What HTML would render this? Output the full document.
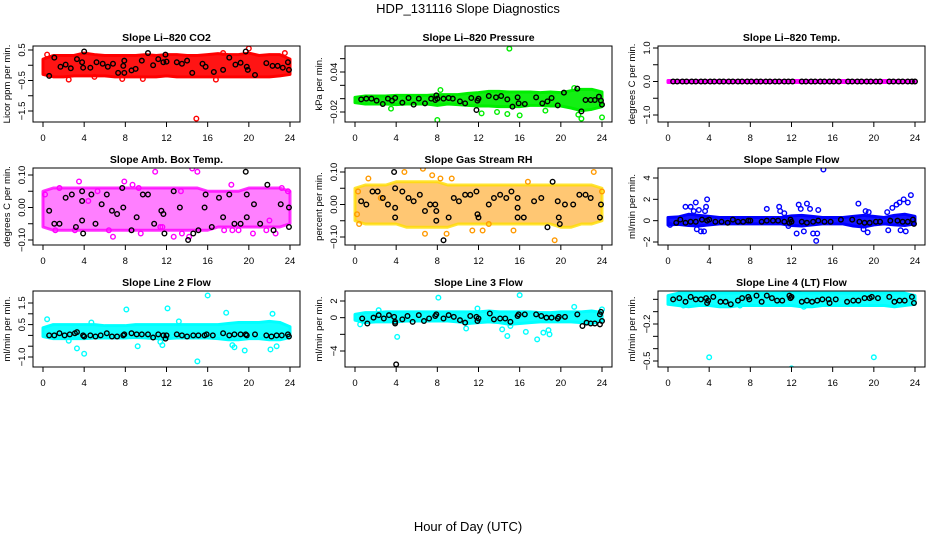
<!DOCTYPE html>
<html><head><meta charset="utf-8">
<style>
html,body{margin:0;padding:0;background:#fff;}
svg{display:block;font-family:"Liberation Sans",sans-serif;}
</style></head>
<body>
<svg id="chart" width="936" height="540" viewBox="0 0 936 540" xmlns="http://www.w3.org/2000/svg">
<text x="468" y="13" font-size="13" text-anchor="middle">HDP_131116  Slope Diagnostics</text>
<text x="468" y="531" font-size="13" text-anchor="middle">Hour of Day (UTC)</text>
</svg>
<script>
// ---- data ----
const hours = [0,1,2,3,4,5,6,7,8,9,10,11,12,13,14,15,16,17,18,19,20,21,22,23,24];
const xTicks = [0,4,8,12,16,20,24];

const co2Lo = [-0.3,-0.38,-0.38,-0.35,-0.35,-0.35,-0.35,-0.38,-0.38,-0.38,-0.38,-0.38,-0.35,-0.38,-0.38,-0.38,-0.38,-0.38,-0.38,-0.38,-0.38,-0.38,-0.38,-0.35,-0.3];
const co2Hi = [0.2,0.32,0.32,0.32,0.4,0.35,0.32,0.32,0.32,0.32,0.35,0.32,0.35,0.35,0.32,0.32,0.35,0.38,0.35,0.35,0.4,0.32,0.35,0.35,0.2];
const co2Out = [[14.9,-1.75],[20.0,0.55],[0.4,0.35],[2.5,-0.47],[7.7,-0.45],[9.7,-0.45],[17.5,0.4],[23.5,0.4],[16.8,-0.47],[5,-0.38]];
const co2Blk = [[0.6,-0.35],[1.1,0.25],[1.7,-0.05],[2.2,0.02],[2.7,-0.1],[3.3,0.2],[3.8,0.1],[3.9,-0.08],[4,0.45],[4.6,-0.08],[5.2,0.1],[5.8,0.05],[6.3,-0.05],[6.8,0.05],[7.3,-0.25],[7.8,-0.02],[7.9,0.15],[7.9,-0.25],[8.6,-0.17],[9,-0.12],[9.6,0.15],[10.2,0.4],[10.7,0],[11.2,0.2],[11.7,0.1],[11.9,0.35],[12,0.12],[13,0.1],[13.5,0.05],[14,0.15],[14.5,-0.25],[15.5,0.05],[15.8,-0.05],[16.6,-0.22],[17.5,-0.15],[18.1,0.25],[18.7,0.02],[19.2,0.08],[19.7,0.45],[19.8,-0.05],[19.9,-0.15],[20.6,-0.32],[21.7,0.07],[22.3,-0.02],[22.8,-0.02],[23.3,-0.08],[23.8,0.1],[23.9,-0.15]];

const presLo = [-0.006,-0.008,-0.008,-0.008,-0.009,-0.008,-0.008,-0.008,-0.01,-0.008,-0.009,-0.01,-0.011,-0.011,-0.012,-0.012,-0.012,-0.01,-0.01,-0.011,-0.011,-0.014,-0.018,-0.016,-0.012];
const presHi = [0.002,0.004,0.004,0.004,0.005,0.005,0.005,0.005,0.006,0.006,0.006,0.008,0.009,0.011,0.011,0.01,0.01,0.01,0.009,0.01,0.009,0.012,0.014,0.014,0.01];
const presOut = [[15,0.075],[8,-0.032],[24,-0.028],[12.3,-0.022],[16,-0.025],[21.7,-0.024],[22,-0.03],[21.3,0.016],[3.5,-0.015],[8.3,0.013],[14.8,-0.023],[13.8,-0.02],[18.5,-0.018]];
const presBlk = [[0.6,-0.001],[1.1,0.0],[1.6,0.0],[2.1,-0.003],[2.7,-0.008],[3.2,0.0],[3.6,-0.003],[3.9,0.001],[4.6,-0.006],[5.2,0.001],[5.7,-0.009],[6.2,0.0],[6.8,-0.007],[7.4,0.0],[7.8,-0.002],[7.9,0.005],[8.0,0.0],[8.6,0.0],[9.1,0.001],[9.5,0.0],[10.2,-0.004],[10.7,-0.007],[11.3,0.001],[11.8,-0.017],[11.9,-0.003],[12.0,0.0],[13.0,0.004],[13.7,0.002],[14.2,0.004],[14.8,-0.001],[15.3,-0.012],[15.8,0.002],[15.9,-0.007],[16.5,-0.008],[17.6,0.002],[18.2,-0.007],[18.7,-0.004],[19.1,0.001],[19.7,-0.01],[20.3,0.009],[21.6,0.015],[22.0,-0.019],[22.4,-0.002],[22.9,-0.002],[23.3,-0.002],[23.7,0.003],[23.9,-0.003],[24.0,-0.009]];

const tempLo = hours.map(()=> -0.03);
const tempHi = hours.map(()=> 0.03);
const tempOut = [];
const tempBlkX = [0.5,0.9,1.4,1.8,2.3,2.7,3.2,3.6,4.1,4.5,5.0,5.4,5.9,6.3,6.8,7.2,7.7,8.1,8.6,9.0,9.5,9.9,10.4,10.8,11.3,11.7,12.1,13.0,13.4,13.9,14.3,14.8,15.2,15.7,16.1,16.6,17.5,17.9,18.4,18.8,19.3,19.7,20.2,20.6,21.5,21.9,22.4,22.8,23.3,23.7,24.0];
const tempBlk = tempBlkX.map(x=>[x,0]);

const ambLo = [-0.06,-0.07,-0.07,-0.07,-0.07,-0.07,-0.07,-0.07,-0.07,-0.07,-0.07,-0.07,-0.07,-0.07,-0.07,-0.07,-0.07,-0.06,-0.06,-0.06,-0.06,-0.06,-0.06,-0.06,-0.05];
const ambHi = [0.05,0.06,0.06,0.06,0.06,0.06,0.06,0.06,0.06,0.06,0.06,0.06,0.06,0.06,0.06,0.06,0.05,0.05,0.05,0.05,0.06,0.06,0.06,0.06,0.05];
const ambOut = [[0.2,0.04],[1.2,-0.07],[1.6,0.06],[3.5,0.08],[4.4,0.02],[6.8,-0.09],[7.9,0.08],[9.5,-0.08],[9.3,0.06],[10.9,0.11],[12.7,-0.09],[13.4,0.05],[14.5,0.12],[15,0.11],[14.2,-0.09],[18.3,0.07],[17.6,-0.07],[18.4,-0.07],[19,-0.07],[20.4,-0.08],[21.7,-0.07],[22,-0.04],[23.2,0.06],[23.8,0.05],[11.4,-0.06],[11.6,-0.06],[5.3,0.05],[8.7,0.07],[3.1,-0.07],[6.4,-0.07],[13.5,-0.08],[22.6,-0.08]];
const ambBlk = [[0.6,-0.01],[1.1,-0.05],[1.6,-0.05],[2.2,0.03],[2.8,0.04],[3.2,-0.06],[3.8,0.02],[3.8,-0.04],[3.9,-0.08],[3.8,0.05],[4.7,0.04],[5.1,-0.05],[5.7,0.01],[6.2,0.04],[6.7,-0.01],[7.2,-0.02],[7.7,0.06],[7.8,0.0],[8.6,-0.07],[9.1,-0.03],[9.7,0.04],[10.2,0.04],[10.8,-0.05],[11.5,-0.01],[11.7,-0.02],[11.8,-0.08],[12.7,0.05],[13.3,0.0],[14.1,-0.1],[14.6,-0.08],[15.1,-0.07],[15.7,0.0],[15.8,0.04],[16.4,-0.06],[17.1,0.03],[17.5,-0.03],[18.1,0.04],[18.6,-0.05],[19.2,-0.05],[19.7,0.11],[19.8,0.04],[19.8,-0.03],[20.5,0.01],[21.1,-0.05],[21.8,0.07],[22.4,-0.07],[23.1,0.01],[23.9,0.0],[23.9,-0.06]];

const rhLo = [-0.05,-0.06,-0.06,-0.06,-0.06,-0.07,-0.07,-0.07,-0.07,-0.07,-0.06,-0.06,-0.06,-0.06,-0.06,-0.06,-0.06,-0.06,-0.06,-0.06,-0.07,-0.07,-0.06,-0.06,-0.05];
const rhHi = [0.05,0.06,0.06,0.06,0.07,0.07,0.07,0.07,0.07,0.06,0.06,0.06,0.06,0.06,0.06,0.06,0.06,0.06,0.06,0.06,0.06,0.06,0.06,0.06,0.05];
const rhOut = [[0.2,-0.03],[0.4,-0.06],[1.3,0.08],[4.8,0.1],[6.6,0.11],[6.8,-0.09],[7.5,0.09],[8.9,-0.09],[9.4,0.08],[11.4,-0.08],[12.4,-0.08],[15.4,-0.08],[19.4,-0.11],[23.2,0.1],[24,0.04],[0.3,0.04],[2.5,0.02],[13,-0.06],[8.3,0.08],[16.8,0.07]];
const rhBlk = [[0.6,0.01],[1.1,0.0],[1.7,0.04],[2.2,0.04],[2.7,0.02],[3.2,0.0],[3.8,0.1],[3.9,0.05],[3.9,-0.01],[3.9,-0.04],[4.6,0.04],[5.2,0.02],[5.7,0.01],[6.3,0.03],[6.8,-0.02],[7.3,0.0],[7.8,0.0],[7.9,-0.02],[7.9,-0.05],[8.6,-0.11],[9.1,-0.04],[9.6,0.02],[10.1,0.01],[10.7,0.03],[11.2,0.03],[11.8,0.04],[11.9,-0.03],[12.0,-0.04],[13.0,0.0],[13.5,0.02],[14.1,0.03],[14.7,0.02],[15.2,0.04],[15.8,0.02],[15.8,-0.01],[15.8,-0.04],[16.4,-0.04],[17.4,0.01],[18.1,0.02],[18.7,-0.07],[19.2,0.07],[19.7,0.01],[19.8,-0.04],[19.9,-0.06],[20.4,0.0],[21.2,0.0],[21.8,0.03],[22.4,0.03],[22.9,0.02],[23.8,-0.04],[23.9,0.0]];

const flowLo = [-0.4,-0.35,-0.45,-0.5,-0.4,-0.3,-0.3,-0.3,-0.3,-0.3,-0.3,-0.3,-0.45,-0.5,-0.4,-0.3,-0.3,-0.3,-0.5,-0.6,-0.4,-0.3,-0.4,-0.45,-0.3];
const flowHi = [0.3,0.35,0.6,0.5,0.4,0.3,0.3,0.3,0.3,0.3,0.3,0.3,0.45,0.5,0.4,0.3,0.3,0.3,0.4,0.5,0.4,0.3,0.5,0.6,0.4];
const flowOut = [[1.7,1.3],[2.2,1.3],[2.5,0.9],[2.7,1.7],[3.0,1.0],[3.6,0.9],[3.7,1.3],[3.8,2.0],[2.8,-0.8],[3.2,-1.0],[3.5,-1.0],[9.6,1.1],[10.8,1.3],[10.9,0.9],[11.3,0.7],[12.7,1.5],[12.9,1.1],[13.5,1.6],[13.8,1.1],[13.2,-1.0],[12.5,-1.2],[14.1,-1.2],[14.4,-1.9],[14.5,-1.2],[14.6,1.0],[15.1,4.8],[18.5,1.6],[19.2,0.9],[19.5,0.8],[19.4,-1.1],[21.3,0.8],[21.4,-0.9],[21.8,1.2],[22.2,1.5],[22.5,1.7],[22.9,2.0],[23.3,1.7],[23.6,2.4],[22.6,-0.9],[23.1,-1.0],[0.2,-0.4],[19,-0.8],[11.7,-0.5]];
const flowBlk = [[0.8,-0.2],[1.2,0.1],[1.7,-0.2],[2.2,-0.1],[2.7,-0.1],[3.3,0.1],[3.8,0.0],[4.0,0.1],[4.6,-0.1],[5.2,-0.1],[5.8,-0.2],[6.3,0.1],[6.8,-0.1],[7.3,-0.1],[7.8,0.0],[8.0,0.0],[9.1,-0.1],[9.6,0.0],[10.2,0.0],[10.7,0.0],[11.3,-0.1],[11.8,-0.2],[11.9,0.1],[12.0,-0.1],[13.0,-0.1],[13.5,-0.2],[14.1,-0.1],[14.6,0.0],[15.2,-0.1],[15.8,-0.1],[16.8,0.1],[17.9,0.1],[18.6,-0.1],[19.1,-0.2],[19.6,-0.2],[20.2,-0.1],[20.6,-0.1],[21.6,0.0],[22.3,0.0],[22.8,-0.1],[23.3,-0.1],[23.8,0.1],[23.9,-0.3]];

const l2Lo = [-0.05,-0.15,-0.15,-0.15,-0.15,-0.12,-0.12,-0.12,-0.12,-0.1,-0.12,-0.15,-0.15,-0.12,-0.12,-0.12,-0.12,-0.15,-0.2,-0.2,-0.15,-0.15,-0.2,-0.2,-0.1];
const l2Hi = [0.35,0.5,0.5,0.5,0.5,0.5,0.45,0.45,0.45,0.5,0.5,0.5,0.5,0.5,0.5,0.5,0.5,0.5,0.55,0.6,0.6,0.6,0.65,0.6,0.4];
const l2Out = [[0.4,0.75],[3.3,-0.6],[4.0,-0.85],[2.5,-0.25],[8.1,1.2],[9.2,-0.5],[11.6,-0.45],[12.1,1.25],[15,-1.2],[16,1.85],[17.8,1.05],[18.4,-0.45],[19.6,-0.7],[22.1,-0.65],[22.3,1.0],[22.7,-0.5],[11.4,-0.3],[4.7,0.6],[13.2,0.65],[18.6,-0.55]];
const l2Blk = [[0.6,0.0],[1.1,0.0],[1.6,0.1],[2.1,0.0],[2.6,0.05],[3.1,0.1],[3.3,0.15],[3.9,0.0],[4.0,-0.05],[4.6,0.0],[5.1,-0.05],[5.6,0.0],[6.2,0.1],[6.7,-0.05],[7.2,-0.05],[7.8,0.0],[7.9,0.05],[8.6,0.1],[9.1,0.05],[9.6,0.05],[10.2,0.05],[10.7,-0.1],[11.2,0.05],[11.7,0.0],[11.9,-0.15],[12.0,0.0],[13.0,0.05],[13.5,0.0],[14.0,-0.05],[14.6,0.0],[15.1,0.0],[15.7,0.0],[15.9,0.05],[16.5,0.0],[17.5,0.1],[18.1,0.0],[18.6,0.05],[19.2,0.05],[19.7,0.05],[19.8,0.0],[20.6,0.05],[21.7,0.0],[22.2,-0.05],[22.7,0.0],[23.2,0.0],[23.8,0.05],[23.9,-0.05]];

const l3Lo = [-0.3,-0.6,-0.5,-0.5,-0.5,-0.4,-0.4,-0.4,-0.4,-0.4,-0.5,-0.7,-0.6,-0.5,-0.6,-0.8,-0.7,-0.6,-0.5,-0.5,-0.5,-0.5,-0.6,-0.7,-0.4];
const l3Hi = [0.4,0.6,0.6,0.7,0.7,0.7,0.7,0.7,0.7,0.7,0.7,0.7,0.7,0.8,0.7,0.7,0.7,0.7,0.6,0.6,0.7,0.7,0.7,0.8,0.6];
const l3Out = [[0.5,-0.8],[8.1,2.4],[4.1,-2.3],[11.9,1.1],[14.3,-1.4],[14.8,-2.2],[16.0,2.7],[16.6,-1.7],[17.7,-2.6],[18.3,-1.8],[18.8,-1.5],[18.9,-2.0],[21.3,1.3],[24,1.0],[2.3,0.9],[10.8,-1.3],[13.1,-0.3],[15.1,-1.0]];
const l3Blk = [[0.7,-0.1],[1.2,-0.7],[1.8,0.0],[2.3,0.3],[2.8,-0.1],[3.3,0.3],[3.8,0.1],[3.9,-0.7],[3.9,-0.5],[4.0,-5.6],[4.6,-0.2],[5.1,0.2],[5.6,-0.5],[6.2,0.3],[6.7,-0.4],[7.2,-0.1],[7.8,0.2],[7.9,0.4],[8.6,-0.1],[9.1,0.3],[9.6,0.1],[10.2,-0.3],[10.7,-0.6],[11.2,0.2],[11.8,0.1],[11.9,-0.4],[12.0,-0.1],[13.1,0.5],[13.5,-0.2],[14.1,-0.1],[14.6,-0.1],[15.1,-0.5],[15.8,0.2],[15.9,0.4],[16.5,0.4],[17.6,0.4],[18.1,0.2],[18.6,0.0],[19.1,0.0],[19.7,-0.1],[19.8,0.1],[20.4,0.1],[21.6,0.4],[22.1,-1.0],[22.5,-0.6],[22.9,-0.7],[23.3,-0.7],[23.8,0.4],[23.8,-0.8],[23.9,0.7],[24,-0.4]];

const l4Lo = [-0.04,-0.05,-0.06,-0.05,-0.05,-0.06,-0.06,-0.05,-0.05,-0.05,-0.05,-0.05,-0.05,-0.06,-0.06,-0.05,-0.05,-0.05,-0.05,-0.05,-0.05,-0.05,-0.06,-0.05,-0.04];
const l4Hi = [0.03,0.05,0.05,0.05,0.05,0.05,0.05,0.05,0.06,0.05,0.05,0.05,0.06,0.05,0.05,0.05,0.05,0.05,0.05,0.05,0.05,0.05,0.05,0.05,0.03];
const l4Out = [[4,-0.47],[12,-0.56],[20,-0.47],[11.5,0.06],[1.5,-0.05],[13.2,-0.06],[7.0,-0.05]];
const l4Blk = [[0.5,0.0],[1.1,0.01],[1.7,-0.02],[2.2,0.02],[2.7,0.0],[3.2,0.0],[3.7,0.01],[3.8,-0.03],[3.9,-0.01],[4.4,0.02],[5.1,-0.02],[5.6,-0.02],[6.1,-0.04],[6.8,-0.01],[7.2,0.01],[7.8,0.02],[7.9,0.0],[8.6,0.03],[9.1,-0.02],[9.6,0.03],[10.1,0.01],[10.6,-0.01],[11.1,-0.01],[11.8,0.03],[11.9,0.01],[12.0,0.02],[13.0,-0.02],[13.5,-0.01],[14.0,-0.02],[14.5,-0.01],[15.0,0.0],[15.6,0.0],[15.7,-0.03],[16.3,0.0],[17.4,-0.02],[18.0,-0.01],[18.5,-0.01],[19.1,0.01],[19.6,0.01],[19.8,0.02],[20.4,0.01],[21.5,0.02],[22.0,-0.02],[22.5,-0.01],[23.0,-0.01],[23.7,0.02],[23.9,-0.03]];

// ---- panels (layout) ----
const svg = document.getElementById('chart');
const NS = 'http://www.w3.org/2000/svg';
const cols = [[33,300],[345,612],[658,925]];
const rows = [[46,122],[168,245],[291,367]];

const panels = [
 {name:'co2', title:'Slope Li\u2013820 CO2', ylab:'Licor ppm per min.', col:'#ff0000', lo:co2Lo, hi:co2Hi, out:co2Out, blk:co2Blk, cal:[0.5,50,-1.5,111], yt:[0.5,0,-0.5,-1,-1.5], yl:['0.5','','\u22120.5','','\u22121.5']},
 {name:'pressure', title:'Slope Li\u2013820 Pressure', ylab:'kPa per min.', col:'#00ee00', lo:presLo, hi:presHi, out:presOut, blk:presBlk, cal:[0.04,72,-0.02,112], yt:[0.06,0.04,0.02,0,-0.02], yl:['','0.04','','','\u22120.02']},
 {name:'temp', title:'Slope Li\u2013820 Temp.', ylab:'degrees C per min.', col:'#ff00ff', lo:tempLo, hi:tempHi, out:tempOut, blk:tempBlk, cal:[1,48,-1,115], yt:[1,0.5,0,-0.5,-1], yl:['1.0','','0.0','','\u22121.0']},
 {name:'amb-box-temp', title:'Slope Amb. Box Temp.', ylab:'degrees C per min.', col:'#ff00ff', lo:ambLo, hi:ambHi, out:ambOut, blk:ambBlk, cal:[0.1,175,-0.1,240], yt:[0.1,0.05,0,-0.05,-0.1], yl:['0.10','','0.00','','\u22120.10'], op:0.5},
 {name:'gas-stream-rh', title:'Slope Gas Stream RH', ylab:'percent per min.', col:'#ff9900', col2:'#ffdd00', lo:rhLo, hi:rhHi, out:rhOut, blk:rhBlk, cal:[0.1,172,-0.1,237], yt:[0.1,0.05,0,-0.05,-0.1], yl:['0.10','','0.00','','\u22120.10'], op:0.55},
 {name:'sample-flow', title:'Slope Sample Flow', ylab:'ml/min per min.', col:'#0000ff', lo:flowLo, hi:flowHi, out:flowOut, blk:flowBlk, cal:[4,178,-2,242], yt:[4,2,0,-2], yl:['4','2','0','\u22122']},
 {name:'line2-flow', title:'Slope Line 2 Flow', ylab:'ml/min per min.', col:'#00ffff', lo:l2Lo, hi:l2Hi, out:l2Out, blk:l2Blk, cal:[1.5,303,-1,357], yt:[1.5,1,0.5,0,-0.5,-1], yl:['1.5','','0.5','','','\u22121.0']},
 {name:'line3-flow', title:'Slope Line 3 Flow', ylab:'ml/min per min.', col:'#00ffff', lo:l3Lo, hi:l3Hi, out:l3Out, blk:l3Blk, cal:[2,301,-4,351], yt:[2,0,-2,-4], yl:['2','0','','\u22124']},
 {name:'line4-flow', title:'Slope Line 4 (LT) Flow', ylab:'ml/min per min.', col:'#00ffff', lo:l4Lo, hi:l4Hi, out:l4Out, blk:l4Blk, cal:[-0.2,324,-0.5,361], yt:[0,-0.1,-0.2,-0.3,-0.4,-0.5], yl:['','','\u22120.2','','','\u22120.5']}
];

function mk(tag, attrs, parent){
  const e = document.createElementNS(NS, tag);
  for (const k in attrs) e.setAttribute(k, attrs[k]);
  (parent||svg).appendChild(e);
  return e;
}

panels.forEach((p, i) => {
  const [L, R] = cols[i % 3];
  const [T, B] = rows[Math.floor(i / 3)];
  const x0 = L + 10, xs = (R - L - 20) / 24;
  const X = h => x0 + h * xs;
  const [v0, p0, v1, p1] = p.cal;
  const Y = v => p0 + (v - v0) * (p1 - p0) / (v1 - v0);

  const g = mk('g', {});
  
  

  const clipId = 'clip' + i;
  const cp = mk('clipPath', {id: clipId}, g);
  mk('rect', {x: L, y: T, width: R - L, height: B - T}, cp);

  const title = mk('text', {x: (L + R) / 2, y: T - 5, 'font-size': 10.5, 'font-weight': 'bold', 'text-anchor': 'middle'}, g);
  title.textContent = p.title;
  
  

  const yl = mk('text', {transform: `translate(${L - 23},${(T + B) / 2}) rotate(-90)`, 'font-size': 9.5, 'text-anchor': 'middle'}, g);
  yl.textContent = p.ylab;
  
  

  const plot = mk('g', {'clip-path': `url(#${clipId})`}, g);

  let pts = hours.map((h, k) => `${X(h)},${Y(p.hi[k])}`);
  pts = pts.concat(hours.slice().reverse().map((h, k) => `${X(h)},${Y(p.lo[hours.length - 1 - k])}`));
  const band = mk('polygon', {points: pts.join(' '), fill: p.col, stroke: p.col2 || p.col, 'stroke-width': 3, 'stroke-linejoin': 'round', 'fill-opacity': p.op || 0.92, 'stroke-opacity': p.op ? 0.8 : 1}, plot);
  
  

  p.out.forEach(([h, v]) => {
    const c = mk('circle', {cx: X(h), cy: Y(v), r: 2.3, fill: 'none', stroke: p.col, 'stroke-width': 1.4}, plot);
    
    
  });
  p.blk.forEach(([h, v]) => {
    const c = mk('circle', {cx: X(h), cy: Y(v), r: 2.3, fill: 'none', stroke: '#000', 'stroke-width': 1.4}, plot);
    
    
  });

  const fr = mk('rect', {x: L, y: T, width: R - L, height: B - T, fill: 'none', stroke: '#000', 'stroke-width': 1}, g);
  
  

  mk('line', {x1: X(0), x2: X(24), y1: B, y2: B, stroke: '#000'}, g);
  xTicks.forEach(t => {
    mk('line', {x1: X(t), x2: X(t), y1: B, y2: B + 5, stroke: '#000'}, g);
    const tl = mk('text', {x: X(t), y: B + 19, 'font-size': 9.5, 'text-anchor': 'middle'}, g);
    tl.textContent = t;
    
    
  });
  mk('line', {x1: L, x2: L, y1: Y(p.yt[0]), y2: Y(p.yt[p.yt.length - 1]), stroke: '#000'}, g);
  p.yt.forEach((t, k) => {
    mk('line', {x1: L - 5, x2: L, y1: Y(t), y2: Y(t), stroke: '#000'}, g);
    if (p.yl[k]) {
      const tl = mk('text', {transform: `translate(${L - 8},${Y(t)}) rotate(-90)`, 'font-size': 9.5, 'text-anchor': 'middle'}, g);
      tl.textContent = p.yl[k];
      
      
    }
  });
});
</script>
</body></html>
